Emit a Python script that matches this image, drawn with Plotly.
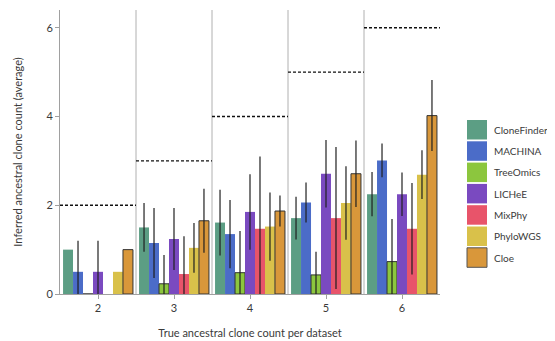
import plotly.graph_objects as go

true_counts = [2, 3, 4, 5, 6]
methods = ["CloneFinder", "MACHINA", "TreeOmics", "LICHeE", "MixPhy", "PhyloWGS", "Cloe"]
colors = ["#5c9e84", "#4b6cc8", "#8cc63e", "#7a4ac0", "#e8546a", "#d9c14a", "#d9973a"]
outlined = [False, False, True, False, False, False, True]

# average inferred count per true count (2..6)
means = {
    "CloneFinder": [1.00, 1.50, 1.61, 1.71, 2.25],
    "MACHINA":     [0.50, 1.15, 1.35, 2.06, 3.01],
    "TreeOmics":   [0.00, 0.23, 0.48, 0.43, 0.73],
    "LICHeE":      [0.50, 1.24, 1.85, 2.71, 2.25],
    "MixPhy":      [0.00, 0.45, 1.47, 1.71, 1.47],
    "PhyloWGS":    [0.50, 1.04, 1.52, 2.05, 2.69],
    "Cloe":        [1.00, 1.65, 1.87, 2.71, 4.02],
}
errors = {
    "CloneFinder": [0.00, 0.55, 0.74, 0.48, 0.50],
    "MACHINA":     [0.70, 0.79, 0.77, 0.45, 0.38],
    "TreeOmics":   [0.00, 0.65, 0.94, 0.52, 0.96],
    "LICHeE":      [0.70, 0.70, 0.85, 0.76, 0.49],
    "MixPhy":      [0.00, 0.85, 1.63, 1.60, 1.03],
    "PhyloWGS":    [0.00, 0.56, 0.77, 0.83, 0.55],
    "Cloe":        [0.00, 0.72, 0.35, 0.75, 0.80],
}

FONT = "Lato"
TXT = "#3a3a3a"
fig = go.Figure()

for m, c, o in zip(methods, colors, outlined):
    fig.add_trace(go.Bar(
        x=true_counts, y=means[m], name=m,
        marker=dict(color=c, line=dict(color="#333333" if o else c, width=1 if o else 0)),
        error_y=dict(type="data", array=errors[m], visible=True,
                     color="rgba(30,30,30,0.85)", thickness=1.4, width=0),
        showlegend=False,
    ))

# true-count reference lines (dashed) spanning each group
for t in true_counts:
    fig.add_trace(go.Scatter(
        x=[t - 0.5, t + 0.5], y=[t, t], mode="lines",
        line=dict(color="#111111", width=1.3, dash="3px,2px"),
        showlegend=False, hoverinfo="skip",
    ))

# group dividers
for t in true_counts[:-1]:
    fig.add_shape(type="line", xref="x", yref="paper", x0=t + 0.5, x1=t + 0.5,
                  y0=0, y1=1, line=dict(color="#b0b0b0", width=1), layer="below")

# page has an 8px body margin; size the figure to fill the rest of the window
OFF = 8
W, H = 555 - OFF, 341 - OFF
ml, mr, mt, mb = 60 - OFF, 115, 10 - OFF, 47
pw, ph = W - ml - mr, H - mt - mb
def px_to_paper_x(px):
    return (px - OFF - ml) / pw
def px_to_paper_y(py):
    return (H - mb - (py - OFF)) / ph

# custom legend with large swatches (page pixel positions)
top = 120
pitch = 21.3
sq = 19.5
for i, (m, c, o) in enumerate(zip(methods, colors, outlined)):
    y0 = top + i * pitch
    fig.add_shape(type="rect", xref="paper", yref="paper",
                  x0=px_to_paper_x(467), x1=px_to_paper_x(487),
                  y0=px_to_paper_y(y0 + sq), y1=px_to_paper_y(y0),
                  fillcolor=c,
                  line=dict(color="#555555" if m == "Cloe" else c, width=1 if m == "Cloe" else 0))
    fig.add_annotation(xref="paper", yref="paper", x=px_to_paper_x(492),
                       y=px_to_paper_y(y0 + sq / 2), text=m, showarrow=False,
                       xanchor="left", yanchor="middle",
                       font=dict(family=FONT, size=10, color=TXT))

fig.update_layout(
    width=W, height=H,
    margin=dict(l=ml, r=mr, t=mt, b=mb, autoexpand=False),
    paper_bgcolor="white", plot_bgcolor="white",
    barmode="group", bargap=0.08, bargroupgap=0,
    font=dict(family=FONT, size=11, color=TXT),
    showlegend=False,
)
fig.update_xaxes(
    range=[1.5, 6.5], tickvals=true_counts, ticktext=[str(t) for t in true_counts],
    showgrid=False, zeroline=False, showline=True, linecolor="#a0a0a0", linewidth=1,
    ticks="outside", ticklen=4, tickcolor="#a0a0a0", automargin=False,
    title=dict(text="True ancestral clone count per dataset", standoff=16,
               font=dict(family=FONT, size=11, color=TXT)),
    tickfont=dict(family=FONT, size=11, color=TXT),
)
fig.update_yaxes(
    range=[0, 6.4], tickvals=[0, 2, 4, 6],
    showgrid=False, zeroline=False, showline=True, linecolor="#a0a0a0", linewidth=1,
    ticks="outside", ticklen=4, tickcolor="#a0a0a0", automargin=False,
    title=dict(text="Inferred ancestral clone count (average)", standoff=21,
               font=dict(family=FONT, size=11, color=TXT)),
    tickfont=dict(family=FONT, size=11, color=TXT),
)

fig.write_html("out.html")
